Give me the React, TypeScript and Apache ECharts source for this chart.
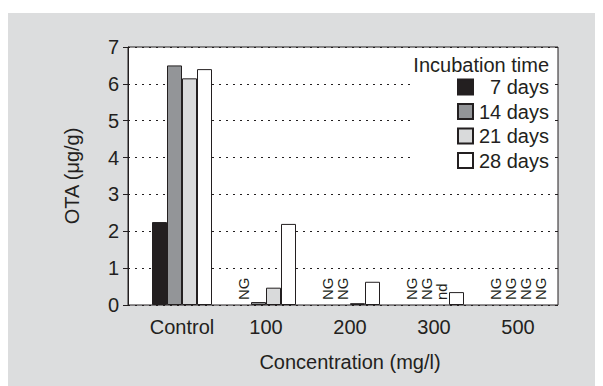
import React, { useEffect, useRef } from "react";
import * as echarts from "echarts";

const categories = ["Control", "100", "200", "300", "500"];
const seriesNames = ["7 days", "14 days", "21 days", "28 days"];
const day7: (number | null)[] = [2.25, null, null, null, null];
const day14: (number | null)[] = [6.5, 0.08, null, null, null];
const day21: (number | null)[] = [6.15, 0.47, 0.05, null, null];
const day28: (number | null)[] = [6.4, 2.2, 0.63, 0.35, null];
const day7Notes = ["", "NG", "NG", "NG", "NG"];
const day14Notes = ["", "", "NG", "NG", "NG"];
const day21Notes = ["", "", "", "nd", "NG"];
const day28Notes = ["", "", "", "", "NG"];
const yTicks = [0, 1, 2, 3, 4, 5, 6, 7];

const colors = ["#231f20", "#939598", "#d9dadb", "#ffffff"];
const FONT = "'Liberation Sans', Arial, Helvetica, sans-serif";
const INK = "#231f20";

function buildData(values: (number | null)[], notes: string[]) {
  return values.map((v, i) => {
    if (v === null) {
      return {
        value: 0,
        itemStyle: { color: "transparent", borderWidth: 0 },
        label: { show: notes[i] !== "", formatter: notes[i] },
      };
    }
    return { value: v };
  });
}

export default function App() {
  const ref = useRef<HTMLDivElement>(null);
  useEffect(() => {
    if (!ref.current) return;
    const chart = echarts.init(ref.current, undefined, { renderer: "svg" });
    const allValues = [day7, day14, day21, day28];
    const allNotes = [day7Notes, day14Notes, day21Notes, day28Notes];
    const option: any = {
      animation: false,
      backgroundColor: "#dcddde",
      textStyle: { fontFamily: FONT },
      title: {
        text: "Incubation time",
        right: 54,
        top: 42,
        padding: 0,
        textStyle: { fontFamily: FONT, fontSize: 20, fontWeight: "normal", color: INK },
      },
      legend: {
        orient: "vertical",
        right: 54,
        top: 64,
        padding: 0,
        itemGap: 4.5,
        itemWidth: 15,
        itemHeight: 15,
        icon: "rect",
        data: seriesNames,
        formatter: (name: string) => `{t|${name}}`,
        textStyle: {
          fontFamily: FONT,
          fontSize: 20,
          color: INK,
          rich: { t: { width: 71, align: "right", fontSize: 20, fontFamily: FONT, color: INK } },
        },
      },
      graphic: [
        {
          type: "rect",
          z: 1,
          shape: { x: 405, y: 42, width: 140, height: 117 },
          style: { fill: "#ffffff" },
          silent: true,
        },
      ],
      grid: [
        {
          left: 120,
          right: 45,
          top: 34,
          bottom: 81,
          show: true,
          backgroundColor: "#ffffff",
          borderColor: INK,
          borderWidth: 1,
        },
        { left: 132, right: 43, top: 34, bottom: 81 },
      ],
      xAxis: [
        { gridIndex: 0, type: "value", min: 0, max: 1, show: false },
        {
          gridIndex: 1,
          type: "category",
          data: categories,
          axisLine: { show: false },
          axisTick: { show: false },
          axisLabel: { fontFamily: FONT, fontSize: 20, color: INK, margin: 12 },
          name: "Concentration (mg/l)",
          nameLocation: "middle",
          nameGap: 47,
          nameTextStyle: { fontFamily: FONT, fontSize: 20, color: INK },
        },
      ],
      yAxis: [
        {
          gridIndex: 0,
          type: "value",
          min: yTicks[0],
          max: yTicks[yTicks.length - 1],
          interval: 1,
          axisLine: { show: true, lineStyle: { color: INK, width: 1 } },
          axisTick: { show: true, inside: false, length: 5, lineStyle: { color: INK } },
          axisLabel: { fontFamily: FONT, fontSize: 20, color: INK, margin: 9 },
          splitLine: { show: true, lineStyle: { color: INK, width: 1, type: [2, 5] } },
          name: "OTA (μg/g)",
          nameLocation: "middle",
          nameGap: 46,
          nameTextStyle: { fontFamily: FONT, fontSize: 20, color: INK },
        },
        {
          gridIndex: 0,
          type: "value",
          position: "right",
          min: yTicks[0],
          max: yTicks[yTicks.length - 1],
          interval: 1,
          axisLine: { show: false },
          axisTick: { show: true, inside: true, length: 3, lineStyle: { color: INK } },
          axisLabel: { show: false },
          splitLine: { show: false },
        },
        {
          gridIndex: 1,
          type: "value",
          min: yTicks[0],
          max: yTicks[yTicks.length - 1],
          show: false,
          splitLine: { show: false },
        },
      ],
      series: seriesNames.map((name, s) => ({
        name,
        type: "bar",
        xAxisIndex: 1,
        yAxisIndex: 2,
        barWidth: 15,
        barGap: "0%",
        z: 3,
        itemStyle: { color: colors[s], borderColor: INK, borderWidth: 1 },
        label: {
          show: false,
          position: "insideBottom",
          rotate: 90,
          align: "left",
          verticalAlign: "middle",
          distance: 5,
          fontFamily: FONT,
          fontSize: 15,
          color: INK,
        },
        data: buildData(allValues[s], allNotes[s]),
      })),
    };
    chart.setOption(option);
    return () => chart.dispose();
  }, []);
  return (
    <div style={{ paddingTop: 5 }}>
      <div ref={ref} style={{ width: 595, height: 373 }} />
    </div>
  );
}
